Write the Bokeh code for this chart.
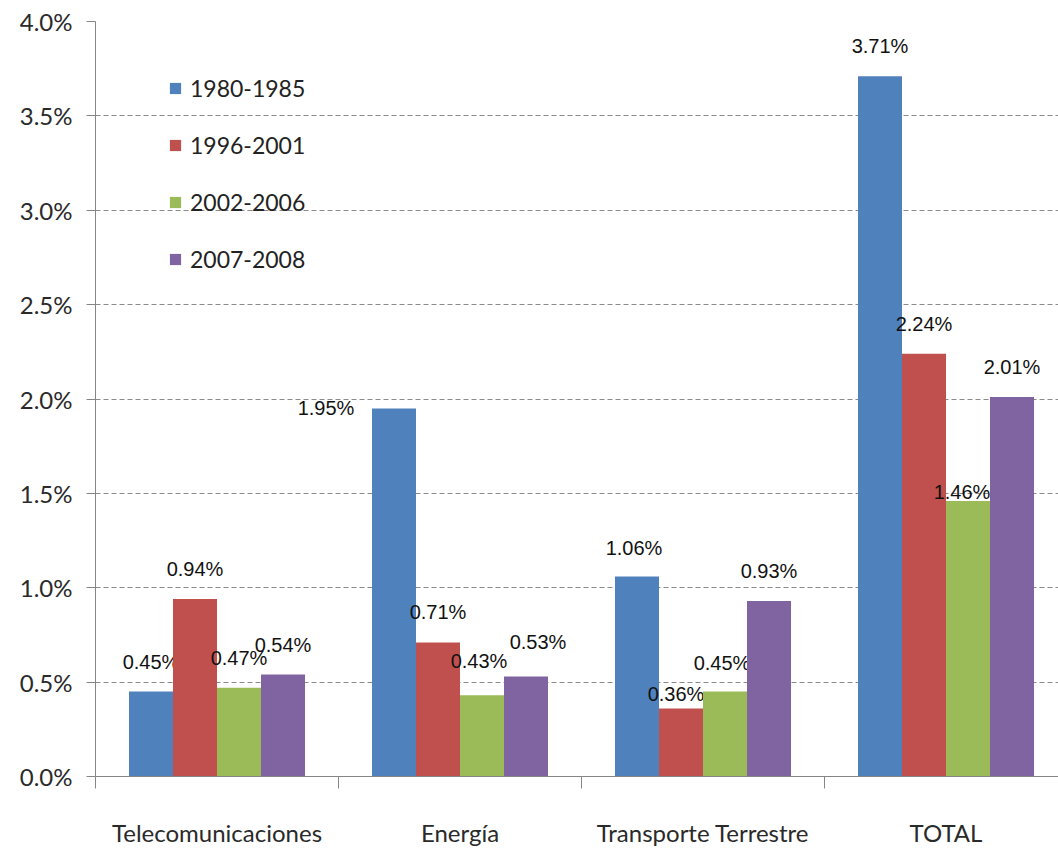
from bokeh.plotting import figure
from bokeh.models import (Range1d, FixedTicker, PrintfTickFormatter, Legend, LegendItem,
                          ColumnDataSource)
from bokeh.core.properties import value
from bokeh.embed import file_html
from bokeh.resources import INLINE

categories = ["Telecomunicaciones", "Energía", "Transporte Terrestre", "TOTAL"]
series = ["1980-1985", "1996-2001", "2002-2006", "2007-2008"]
v_1980_1985 = [0.45, 1.95, 1.06, 3.71]
v_1996_2001 = [0.94, 0.71, 0.36, 2.24]
v_2002_2006 = [0.47, 0.43, 0.45, 1.46]
v_2007_2008 = [0.54, 0.53, 0.93, 2.01]
values = [v_1980_1985, v_1996_2001, v_2002_2006, v_2007_2008]
colors = ["#4F81BD", "#C0504D", "#9BBB59", "#8064A2"]

# label nudges in pixels (series index, category index): (dx, dy)
label_nudge = {
    (0, 1): (-68, 0),
    (0, 2): (-3, -28),
    (2, 1): (-3, -34),
    (3, 1): (12, -34),
    (1, 2): (-5, -15),
    (2, 2): (-3, -29),
    (2, 3): (-6, -9),
}

LABEL_FONT = "Lato"
NARROW = "Liberation Sans Narrow, Arial Narrow, sans-serif"

p = figure(width=1058, height=849, output_backend="svg", toolbar_location=None,
           x_range=Range1d(0, 963 / 243), y_range=Range1d(0, 4.0),
           min_border_left=95, min_border_right=0, min_border_top=21, min_border_bottom=71)
p.outline_line_color = None
p.background_fill_color = "white"

bar_w = 44 / 243
offsets = [-1.5 * bar_w, -0.5 * bar_w, 0.5 * bar_w, 1.5 * bar_w]

renderers = []
for si, (name, vals, col) in enumerate(zip(series, values, colors)):
    xs = [ci + 0.5 + offsets[si] for ci in range(len(categories))]
    dx = [label_nudge.get((si, ci), (0, -30))[0] for ci in range(len(categories))]
    dy = [label_nudge.get((si, ci), (0, -30))[1] for ci in range(len(categories))]
    src = ColumnDataSource(dict(x=xs, top=vals, lbl=["%.2f%%" % v for v in vals], dx=dx, dy=dy))
    r = p.vbar(x="x", top="top", width=bar_w, bottom=0, source=src,
               fill_color=col, line_color=None)
    renderers.append(r)
    p.text(x="x", y="top", text="lbl", source=src, x_offset="dx", y_offset="dy",
           text_align="center", text_baseline="middle", text_font=value(NARROW),
           text_font_size="20px", text_color="#111111")

legend = Legend(items=[LegendItem(label=s, renderers=[r]) for s, r in zip(series, renderers)],
                location=(73, 503), orientation="vertical",
                glyph_width=14, glyph_height=14, label_height=22, spacing=29,
                label_standoff=8, padding=0, margin=0,
                label_text_font=LABEL_FONT, label_text_font_size="23px",
                label_text_color="#222222",
                background_fill_alpha=0, border_line_alpha=0)
p.add_layout(legend, "center")

# y axis
p.yaxis.ticker = FixedTicker(ticks=[0, 0.5, 1.0, 1.5, 2.0, 2.5, 3.0, 3.5, 4.0])
p.yaxis.formatter = PrintfTickFormatter(format="%.1f%%")
p.yaxis.axis_line_color = "#868686"
p.yaxis.major_tick_line_color = "#868686"
p.yaxis.major_tick_out = 9
p.yaxis.major_tick_in = 0
p.yaxis.minor_tick_line_color = None
p.yaxis.major_label_standoff = 14
p.yaxis.major_label_text_font = LABEL_FONT
p.yaxis.major_label_text_font_size = "24px"
p.yaxis.major_label_text_color = "#2a2a2a"

# x axis
p.xaxis.ticker = FixedTicker(ticks=[0.5, 1.5, 2.5, 3.5], minor_ticks=[0, 1, 2, 3, 4])
p.xaxis.major_label_overrides = {0.5: categories[0], 1.5: categories[1],
                                 2.5: categories[2], 3.5: categories[3]}
p.xaxis.axis_line_color = "#868686"
p.xaxis.major_tick_line_color = None
p.xaxis.minor_tick_line_color = "#868686"
p.xaxis.minor_tick_out = 12
p.xaxis.minor_tick_in = 0
p.xaxis.major_label_standoff = 29
p.xaxis.major_label_text_font = LABEL_FONT
p.xaxis.major_label_text_font_size = "24px"
p.xaxis.major_label_text_color = "#2a2a2a"

p.xgrid.grid_line_color = None
p.ygrid.ticker = FixedTicker(ticks=[0.5, 1.0, 1.5, 2.0, 2.5, 3.0, 3.5, 4.0])
p.ygrid.grid_line_color = "#8a8a8a"
p.ygrid.grid_line_dash = "5 3"
p.ygrid.grid_line_width = 1

open("out.html", "w").write(file_html(p, INLINE))
